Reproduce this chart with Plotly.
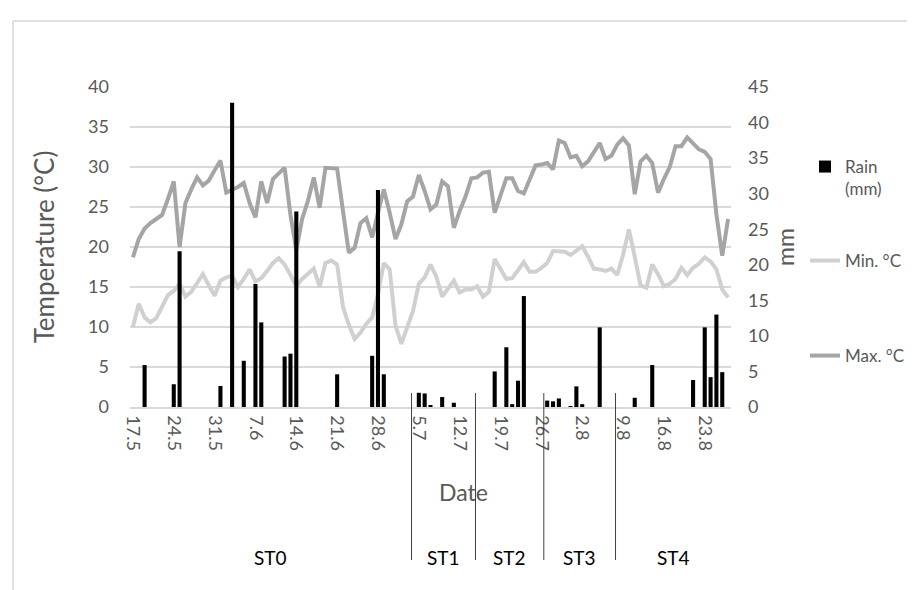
import pandas as pd
import plotly.graph_objects as go

# ---------------- data ----------------
start_date = "2019-05-17"

max_temp = [18.7, 21.0, 22.3, 23.0, 23.5, 24.0, 26.0, 28.2, 20.0, 25.5,
            27.2, 28.7, 27.7, 28.3, 29.6, 30.8, 26.8, 27.1, 27.5, 28.0,
            25.5, 23.7, 28.2, 25.5, 28.5, 29.2, 29.9, 24.0, 19.6, 23.5,
            25.8, 28.7, 24.9, 29.9, 29.9, 29.8, 24.5, 19.3, 19.9, 23.0,
            23.6, 21.2, 24.3, 27.2, 24.3, 21.0, 22.8, 25.7, 26.3, 29.0,
            27.0, 24.7, 25.3, 28.2, 27.6, 22.4, 24.5, 26.3, 28.6, 28.7,
            29.3, 29.4, 24.3, 26.4, 28.6, 28.6, 27.0, 26.7, 28.3, 30.2,
            30.3, 30.5, 29.7, 33.3, 33.0, 31.2, 31.4, 30.1, 30.7, 31.8,
            33.0, 31.0, 31.4, 32.8, 33.6, 32.7, 26.6, 30.7, 31.4, 30.5,
            26.8, 28.5, 30.0, 32.6, 32.6, 33.7, 33.0, 32.2, 31.9, 31.0,
            24.1, 18.9, 23.5]

min_temp = [10.0, 12.9, 11.2, 10.6, 11.1, 12.5, 14.0, 14.5, 15.4, 13.8,
            14.4, 15.5, 16.6, 15.2, 13.9, 15.8, 16.2, 16.4, 15.0, 16.0,
            17.2, 15.7, 16.1, 17.0, 18.0, 18.6, 17.8, 16.5, 15.1, 16.0,
            16.6, 17.3, 15.0, 18.0, 18.3, 17.8, 12.5, 10.3, 8.5, 9.3,
            10.4, 11.2, 14.1, 18.0, 17.2, 10.2, 7.9, 10.0, 12.0, 15.4,
            16.2, 17.8, 16.3, 13.8, 14.7, 15.8, 14.3, 14.7, 14.7, 15.1,
            13.8, 14.4, 18.5, 17.2, 16.0, 16.1, 17.0, 18.1, 16.9, 16.9,
            17.4, 18.0, 19.5, 19.5, 19.4, 19.0, 19.5, 20.1, 18.8, 17.3,
            17.2, 17.0, 17.3, 16.5, 19.0, 22.2, 18.8, 15.2, 14.9, 17.8,
            16.6, 15.1, 15.4, 16.0, 17.4, 16.5, 17.4, 17.9, 18.7, 18.2,
            17.2, 14.7, 13.7]

rain_mm = [0, 0, 5.9, 0, 0, 0, 0, 3.2, 21.9, 0,
           0, 0, 0, 0, 0, 2.95, 0, 42.8, 0, 6.5,
           0, 17.3, 11.9, 0, 0, 0, 7.1, 7.5, 27.5, 0,
           0, 0, 0, 0, 0, 4.6, 0, 0, 0, 0,
           0, 7.2, 30.5, 4.6, 0, 0, 0, 0, 0, 2.0,
           1.9, 0.2, 0, 1.4, 0, 0.6, 0, 0, 0, 0,
           0, 0, 5.0, 0, 8.4, 0.4, 3.7, 15.6, 0, 0,
           0, 0.9, 0.8, 1.2, 0, 0.1, 2.9, 0.4, 0, 0,
           11.2, 0, 0, 0, 0, 0, 1.3, 0, 0, 5.9,
           0, 0, 0, 0, 0, 0, 3.8, 0, 11.2, 4.2,
           13.0, 4.9, 0]

tick_labels = ["17.5", "24.5", "31.5", "7.6", "14.6", "21.6", "28.6", "5.7",
               "12.7", "19.7", "26.7", "2.8", "9.8", "16.8", "23.8"]

stage_labels = ["ST0", "ST1", "ST2", "ST3", "ST4"]
stage_bounds = ["2019-07-03 18:00", "2019-07-14 17:00",
                "2019-07-26 10:00", "2019-08-07 17:00"]

# ---------------- figure ----------------
dates = pd.date_range(start_date, periods=len(max_temp), freq="D")
half_day = pd.Timedelta(hours=12)
x_start = dates[0] - half_day
x_end = dates[-1] + half_day

FONT = "Lato"
TXT = "#595959"

fig = go.Figure()
fig.add_trace(go.Bar(x=dates, y=rain_mm, name="Rain<br>(mm)", yaxis="y2",
                     marker=dict(color="black", line=dict(width=0)),
                     legend="legend"))
fig.add_trace(go.Scatter(x=dates, y=min_temp, name="Min. °C", mode="lines",
                         line=dict(color="#d0d0d0", width=4),
                         legend="legend2"))
fig.add_trace(go.Scatter(x=dates, y=max_temp, name="Max. °C", mode="lines",
                         line=dict(color="#a5a5a5", width=4),
                         legend="legend3"))

# plot-area geometry in pixels (used to place annotations / shapes)
W, H = 915, 590
ML, MR, MT, MB = 122, 192, 79, 191
PW, PH = W - ML - MR, H - MT - MB


def px_x(px):
    return (px - ML) / PW


def px_y(py):
    return (H - MB - py) / PH


shapes = []
bounds = [pd.Timestamp(b) for b in stage_bounds]
for b in bounds:
    shapes.append(dict(type="line", xref="x", yref="paper", x0=b, x1=b,
                       y0=px_y(385), y1=px_y(552),
                       line=dict(color="#404040", width=1)))
# chart border
shapes.append(dict(type="rect", xref="paper", yref="paper",
                   x0=px_x(5), x1=px_x(917), y0=px_y(13), y1=px_y(592),
                   line=dict(color="#d9d9d9", width=1.5), layer="below"))

edges = [x_start] + bounds + [x_end]
annotations = []
for i, lab in enumerate(stage_labels):
    c = edges[i] + (edges[i + 1] - edges[i]) / 2
    annotations.append(dict(text=lab, x=c, xref="x", y=px_y(549), yref="paper",
                            showarrow=False, xanchor="center", yanchor="middle",
                            font=dict(family=FONT, size=19, color="black")))
annotations.append(dict(text="Date", x=px_x(456), xref="paper", y=px_y(484),
                        yref="paper", showarrow=False, xanchor="center",
                        yanchor="middle",
                        font=dict(family=FONT, size=23, color=TXT)))

legend_common = dict(xanchor="left", bgcolor="rgba(0,0,0,0)",
                     font=dict(family=FONT, size=17, color=TXT),
                     x=px_x(797))

fig.update_layout(
    width=W, height=H,
    margin=dict(l=ML, r=MR, t=MT, b=MB, autoexpand=False),
    plot_bgcolor="white", paper_bgcolor="white",
    font=dict(family=FONT, size=18, color=TXT),
    bargap=0.3,
    showlegend=True,
    xaxis=dict(type="date", range=[x_start, x_end],
               tickvals=list(dates[::7]), ticktext=tick_labels,
               tickangle=90, showgrid=False, zeroline=False,
               showline=True, linecolor="#d9d9d9", linewidth=1.5,
               ticks="", ticklabelstandoff=3,
               tickfont=dict(family=FONT, size=18, color=TXT)),
    yaxis=dict(range=[0, 40], dtick=5, showgrid=True, gridcolor="#d9d9d9",
               gridwidth=1.5, zeroline=False, showline=False, ticks="",
               ticklabelstandoff=20,
               tickfont=dict(family=FONT, size=18, color=TXT),
               title=dict(text="Temperature (°C)", standoff=26,
                          font=dict(family=FONT, size=26, color=TXT))),
    yaxis2=dict(range=[0, 45], dtick=5, overlaying="y", side="right",
                showgrid=False, zeroline=False, showline=False, ticks="",
                ticklabelstandoff=16,
                tickfont=dict(family=FONT, size=18, color=TXT),
                title=dict(text="mm", standoff=10,
                           font=dict(family=FONT, size=23, color=TXT))),
    legend=dict(**legend_common, y=px_y(141), yanchor="top", valign="top"),
    legend2=dict(**legend_common, y=px_y(253), yanchor="middle"),
    legend3=dict(**legend_common, y=px_y(348), yanchor="middle"),
    shapes=shapes,
    annotations=annotations,
)

fig.write_html("out.html", config={"displayModeBar": False})
